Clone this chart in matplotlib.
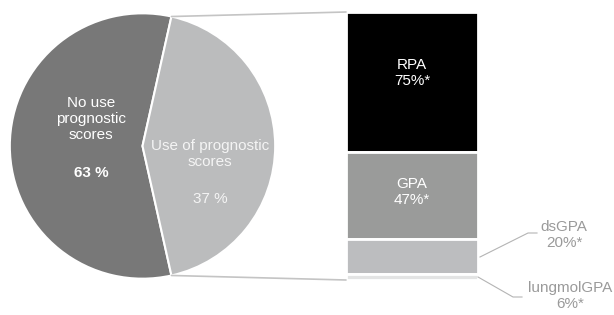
import numpy as np
import matplotlib
matplotlib.use('Agg')
import matplotlib.pyplot as plt
from matplotlib.patches import ConnectionPatch

plt.rcParams['font.family'] = ['Liberation Sans', 'DejaVu Sans']

# pie: drawn shares, labels as printed
pie_names = ['No use\nprognostic\nscores', 'Use of prognostic\nscores']
pie_pct = ['63 %', '37 %']
pie_share = [57, 43]
pie_colors = ['#787878', '#bbbcbd']

# bar of pie, top to bottom
bar_names = ['RPA', 'GPA', 'dsGPA', 'lungmolGPA']
bar_pct = ['75%*', '47%*', '20%*', '6%*']
bar_share = [75, 47, 19, 3]
bar_colors = ['#000000', '#9a9b9a', '#bcbdbf', '#e3e4e4']

W, H = 614, 315
fig = plt.figure(figsize=(W / 100, H / 100), dpi=100)

def px(x, y):
    return x / W, 1 - y / H

# pie axes
ax1 = fig.add_axes([8.5 / W, (H - 280) / H, 268 / W, 268 / H])
half = pie_share[1] / sum(pie_share) * 180
wedges, _ = ax1.pie(pie_share, colors=pie_colors, startangle=half,
                    counterclock=True, radius=1,
                    wedgeprops=dict(edgecolor='white', linewidth=1.5))
ax1.set_xlim(-1.01, 1.01)
ax1.set_ylim(-1.01, 1.01)
ax1.set_aspect('equal')
ax1.axis('off')

fig.text(*px(91, 119), pie_names[0], ha='center', va='center', color='white',
         fontsize=11, linespacing=1.15)
fig.text(*px(91, 173), pie_pct[0], ha='center', va='center', color='white',
         fontsize=11, fontweight='bold')
fig.text(*px(210, 154), pie_names[1], ha='center', va='center', color='#f4f4f4',
         fontsize=11, linespacing=1.15)
fig.text(*px(210, 199), pie_pct[1], ha='center', va='center', color='#f4f4f4',
         fontsize=11)

# stacked bar axes
ax2 = fig.add_axes([346 / W, (H - 280) / H, 132 / W, 268 / H])
total = sum(bar_share)
bottom = total
for size, col in zip(bar_share, bar_colors):
    bottom -= size
    ax2.bar(0, size, bottom=bottom, width=1, color=col, edgecolor='white',
            linewidth=2)
ax2.set_xlim(-0.5, 0.5)
ax2.set_ylim(0, total)
ax2.axis('off')

fig.text(*px(412, 73), bar_names[0] + '\n' + bar_pct[0], ha='center', va='center',
         color='white', fontsize=11, linespacing=1.15)
fig.text(*px(412, 192), bar_names[1] + '\n' + bar_pct[1], ha='center', va='center',
         color='white', fontsize=11, linespacing=1.15)
fig.text(*px(564, 235), bar_names[2] + '\n' + bar_pct[2], ha='center', va='center',
         color='#9a9a9a', fontsize=11, linespacing=1.15)
fig.text(*px(570, 296), bar_names[3] + '\n' + bar_pct[3], ha='center', va='center',
         color='#9a9a9a', fontsize=11, linespacing=1.15)

# leader lines for the small segments
lc = '#b4b4b4'
fig.add_artist(plt.Line2D([480 / W, 528 / W, 537 / W],
                          [1 - 257 / H, 1 - 233 / H, 1 - 233 / H], color=lc, lw=0.8))
fig.add_artist(plt.Line2D([478 / W, 513 / W, 522 / W],
                          [1 - 277 / H, 1 - 297 / H, 1 - 297 / H], color=lc, lw=0.8))

# connectors from pie slice to bar
t = np.deg2rad(half)
for sy, by in [(np.sin(t), total), (-np.sin(t), 0)]:
    con = ConnectionPatch(xyA=(np.cos(t), sy), coordsA=ax1.transData,
                          xyB=(-0.5, by), coordsB=ax2.transData,
                          color='#c4c4c4', lw=1.2)
    fig.add_artist(con)

fig.savefig('out.png', dpi=100)
